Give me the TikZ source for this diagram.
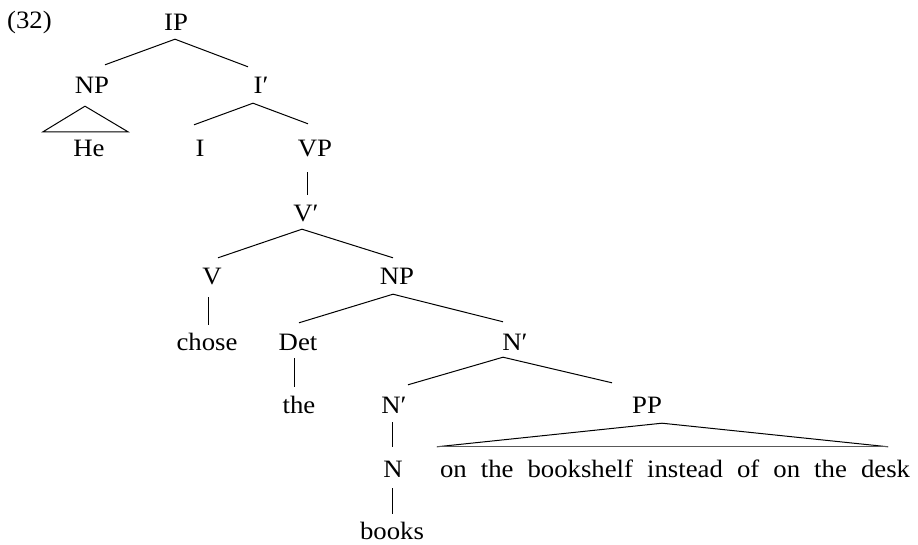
\documentclass[tikz,border=0pt]{standalone}
\usepackage{fontspec}
\setmainfont{Liberation Serif}[FakeStretch=1.07]
\usetikzlibrary{calc}

\begin{document}
\begin{tikzpicture}[x=1pt,y=-1pt,
    cat/.style={inner xsep=0pt,inner ysep=9pt,text height=19pt,text depth=0pt,anchor=base},
    branch/.style={line width=1pt},
    font=\fontsize{25}{30}\selectfont]
  \useasboundingbox (0,0) rectangle (918,545);

  % example number
  \node[inner sep=0pt,anchor=base west] (ex) at (7,29) {(32)};

  % tree labels, placed by centre and baseline
  \node[cat] (IP)    at (176,31)  {IP};
  \node[cat] (NPa)   at (92,94)   {NP};
  \node[cat] (Ibar)  at (261,94)  {I′};
  \node[cat] (He)    at (89,157)  {He};
  \node[cat] (I)     at (200,157) {I};
  \node[cat] (VP)    at (315,157) {VP};
  \node[cat] (Vbar)  at (306,222) {V′};
  \node[cat] (V)     at (212,285) {V};
  \node[cat] (NPb)   at (397,285) {NP};
  \node[cat] (chose) at (207,350) {chose};
  \node[cat] (Det)   at (298,350) {Det};
  \node[cat] (Nbara) at (515,350) {N′};
  \node[cat] (the)   at (299,413) {the};
  \node[cat] (Nbarb) at (394,413) {N′};
  \node[cat] (PP)    at (647,413) {PP};
  \node[cat] (N)     at (393,477) {N};
  \node[cat] (pptxt) at (675,477) {\makebox[470pt][s]{on the bookshelf instead of on the desk}};
  \node[cat,inner ysep=1pt] (books) at (392,539) {books};

  % IP
  \draw[branch] ($(IP.south)+(-1,-1)$) -- ($(NPa.north)+(13,-1)$);
  \draw[branch] ($(IP.south)+(-1,-1)$) -- ($(Ibar.north)+(-13,1)$);
  % NP -> He (triangle)
  \draw[branch] ($(He.north)+(-46,3)$) -- ($(NPa.south)+(-7,3)$) -- ($(He.north)+(39,3)$) -- cycle;
  % I'
  \draw[branch] ($(Ibar.south)+(-8,0)$) -- ($(I.north)+(-6,-4)$);
  \draw[branch] ($(Ibar.south)+(-8,0)$) -- ($(VP.north)+(-7,-5)$);
  % VP -> V'
  \draw[branch] ($(VP.south)+(-8,6)$) -- ($(Vbar.north)+(1,1)$);
  % V'
  \draw[branch] ($(Vbar.south)+(-4,-2)$) -- ($(V.north)+(6,1)$);
  \draw[branch] ($(Vbar.south)+(-4,-2)$) -- ($(NPb.north)+(-4,1)$);
  % V -> chose
  \draw[branch] ($(V.south)+(-4,3)$) -- ($(chose.north)+(1,3)$);
  % NP
  \draw[branch] ($(NPb.south)+(-4,0)$) -- ($(Det.north)+(1,1)$);
  \draw[branch] ($(NPb.south)+(-4,0)$) -- ($(Nbara.north)+(-12,0)$);
  % Det -> the
  \draw[branch] ($(Det.south)+(-4,-1)$) -- ($(the.north)+(-5,2)$);
  % N'
  \draw[branch] ($(Nbara.south)+(-12,-2)$) -- ($(Nbarb.north)+(14,0)$);
  \draw[branch] ($(Nbara.south)+(-12,-2)$) -- ($(PP.north)+(-35,-2)$);
  % N' -> N -> books
  \draw[branch] ($(Nbarb.south)+(-2,0)$) -- ($(N.north)+(-1,-2)$);
  \draw[branch] ($(N.south)+(-1,2)$) -- ($(books.north)+(0,-5)$);
  % PP (triangle)
  \draw[branch] ($(pptxt.north west)+(-3,-2)$) -- ($(PP.south)+(15,1)$) -- ($(pptxt.north east)+(-22,-2)$);
  \draw[branch,black!65,line width=1.3pt] ($(pptxt.north west)+(-3,-2)$) -- ($(pptxt.north east)+(-22,-2)$);
\end{tikzpicture}
\end{document}
